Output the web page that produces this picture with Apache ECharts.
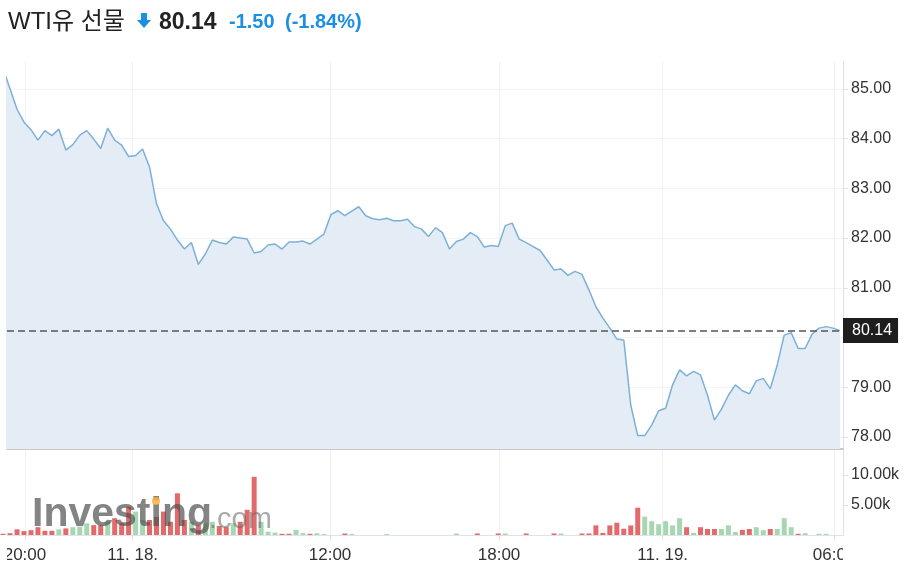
<!DOCTYPE html>
<html>
<head>
<meta charset="utf-8">
<script src="https://cdn.jsdelivr.net/npm/echarts@6/dist/echarts.min.js"></script>
<style>
html,body{margin:0;padding:0;background:#fff;}
#chart{width:920px;height:575px;}
</style>
</head>
<body>
<div id="chart"></div>
<script>
// ---- data ----
const instrumentName = 'WTI유 선물';
const lastPrice = 80.14;
const priceChange = -1.50;
const priceChangePct = -1.84;

const prices = [
  85.40, 85.00, 84.59, 84.33, 84.18, 83.97, 84.16, 84.06, 84.19, 83.77,
  83.88, 84.07, 84.16, 83.99, 83.80, 84.21, 83.97, 83.87, 83.64, 83.66,
  83.79, 83.43, 82.69, 82.35, 82.18, 81.96, 81.78, 81.91, 81.47, 81.68,
  81.96, 81.91, 81.88, 82.02, 82.00, 81.98, 81.70, 81.73, 81.86, 81.88,
  81.78, 81.92, 81.92, 81.94, 81.88, 81.98, 82.08, 82.47, 82.55, 82.45,
  82.54, 82.63, 82.45, 82.39, 82.37, 82.40, 82.35, 82.35, 82.38, 82.23,
  82.18, 82.03, 82.21, 82.11, 81.78, 81.93, 81.98, 82.11, 82.03, 81.82,
  81.85, 81.83, 82.25, 82.30, 81.98, 81.91, 81.83, 81.75, 81.56, 81.36,
  81.38, 81.25, 81.33, 81.27, 80.96, 80.62, 80.39, 80.19, 79.97, 79.95,
  78.64, 78.03, 78.03, 78.24, 78.53, 78.58, 79.05, 79.35, 79.23, 79.32,
  79.25, 78.84, 78.34, 78.56, 78.84, 79.05, 78.93, 78.87, 79.13, 79.18,
  78.97, 79.45, 80.05, 80.10, 79.78, 79.78, 80.07, 80.19, 80.22, 80.19,
  80.14
];

const volumes = [
  200, 300, 950, 650, 800, 1300, 700, 700, 950, 1100,
  1300, 1400, 1950, 1650, 1650, 2200, 2800, 1950, 4700, 3900,
  2500, 2500, 3000, 3900, 2200, 6950, 2500, 2200, 1650, 1950,
  2200, 1500, 1300, 1950, 2200, 4200, 9700, 2200, 550, 400,
  200, 200, 850, 300, 200, 300, 150, 0, 0, 250,
  150, 0, 0, 0, 0, 150, 0, 0, 0, 0,
  0, 0, 0, 0, 0, 250, 0, 0, 250, 0,
  0, 250, 250, 0, 0, 250, 0, 0, 0, 250,
  250, 0, 0, 250, 250, 1600, 350, 1600, 2050, 1050,
  1600, 4550, 3050, 2300, 1800, 2300, 1600, 2800, 1300, 350,
  1300, 1000, 1000, 1000, 1600, 500, 850, 1000, 1300, 800,
  1000, 1000, 2800, 1300, 200, 300, 0, 200, 200, 0,
  0
];

const volumeDirs = [
  'd','d','d','d','d','d','d','d','u','d',
  'u','u','u','d','d','u','d','d','d','u',
  'u','d','d','d','d','d','d','u','d','u',
  'u','d','d','u','d','d','d','u','u','u',
  'd','d','u','u','d','u','u','u','u','d',
  'u','u','d','d','d','u','d','d','d','d',
  'd','d','d','d','d','u','d','d','d','d',
  'd','d','u','d','d','d','d','d','d','d',
  'u','d','d','d','d','d','d','d','d','d',
  'd','d','u','u','u','u','u','u','d','u',
  'd','d','d','u','u','u','d','d','u','u',
  'd','u','u','u','d','u','u','u','u','d',
  'd'
];

const xTickPositions = [3.14, 18.59, 46.88, 71.11, 94.58, 119.15];
const xTickLabels = ['20:00', '11. 18.', '12:00', '18:00', '11. 19.', '06:00'];
const priceTicks = [78, 79, 80, 81, 82, 83, 84, 85];
const volumeTicks = [5000, 10000];

// ---- chart ----
const chart = echarts.init(document.getElementById('chart'), null, {renderer: 'canvas'});
const FONT = "'Liberation Sans', Arial, 'Noto Sans CJK KR', sans-serif";
const XMIN = 0.562, XMAX = 120.43;
const blue = '#1a8fe3';

function xLabelFor(v) {
  let best = 0, bd = Infinity;
  xTickPositions.forEach((p, k) => { const d = Math.abs(p - v); if (d < bd) { bd = d; best = k; } });
  return xTickLabels[best];
}

const option = {
  animation: false,
  textStyle: {fontFamily: FONT},
  grid: [
    {left: 7, right: 77, top: 62, height: 387},
    {left: 7, right: 77, top: 449, height: 86}
  ],
  xAxis: [
    {
      type: 'value', gridIndex: 0, min: XMIN, max: XMAX,
      axisLine: {show: true, onZero: false, lineStyle: {color: '#c9c9c9', width: 2}},
      axisTick: {show: false, customValues: xTickPositions},
      axisLabel: {show: false, customValues: xTickPositions},
      splitLine: {show: true, lineStyle: {color: '#edf0f4', width: 1}}
    },
    {
      type: 'value', gridIndex: 1, min: XMIN, max: XMAX,
      axisLine: {show: true, onZero: false, lineStyle: {color: '#dfe3e8', width: 1}},
      axisTick: {show: true, length: 6, customValues: xTickPositions, lineStyle: {color: '#dfe3e8'}},
      axisLabel: {show: true, customValues: xTickPositions, formatter: xLabelFor,
                  color: '#333', fontSize: 17, margin: 12, fontFamily: FONT},
      splitLine: {show: true, lineStyle: {color: '#edf0f4', width: 1}}
    }
  ],
  yAxis: [
    {
      type: 'value', gridIndex: 0, position: 'right', min: 77.76, max: 85.54,
      axisLine: {show: true, lineStyle: {color: '#dde2e8'}},
      axisTick: {show: true, length: 5, customValues: priceTicks, lineStyle: {color: '#dde2e8'}},
      axisLabel: {show: true, customValues: priceTicks, formatter: v => v.toFixed(2),
                  color: '#333', fontSize: 16, margin: 8, fontFamily: FONT},
      splitLine: {show: true, lineStyle: {color: '#f2f3f5'}}
    },
    {
      type: 'value', gridIndex: 1, position: 'right', min: 0, max: 14333,
      axisLine: {show: true, lineStyle: {color: '#dde2e8'}},
      axisTick: {show: true, length: 5, customValues: volumeTicks, lineStyle: {color: '#dde2e8'}},
      axisLabel: {show: true, customValues: volumeTicks, formatter: v => (v / 1000).toFixed(2) + 'k',
                  color: '#333', fontSize: 16, margin: 8, fontFamily: FONT},
      splitLine: {show: false}
    }
  ],
  series: [
    {
      type: 'line', xAxisIndex: 0, yAxisIndex: 0,
      data: prices.map((v, i) => [i, v]),
      symbol: 'none', smooth: false,
      lineStyle: {color: '#7db0d9', width: 1.5},
      areaStyle: {color: '#e4edf5', opacity: 1, origin: 'start'},
      markLine: {
        silent: true, symbol: ['none', 'none'],
        lineStyle: {color: '#555', type: [7, 4], width: 1.5},
        label: {show: true, position: 'end', distance: 0, formatter: () => lastPrice.toFixed(2),
                backgroundColor: '#1e1e1e', color: '#fff', fontSize: 16, fontFamily: FONT,
                padding: [5, 6, 4, 9]},
        data: [{yAxis: lastPrice}]
      }
    },
    {
      type: 'bar', xAxisIndex: 1, yAxisIndex: 1, barWidth: 5,
      data: volumes.map((v, i) => ({
        value: [i, v],
        itemStyle: {color: volumeDirs[i] === 'u' ? '#a6d7b2' : '#e26a6a'}
      }))
    }
  ],
  graphic: [
    {type: 'text', left: 8, top: 10, style: {text: instrumentName, font: "24px " + FONT, fill: '#222'}},
    {type: 'polygon', shape: {points: [[141, 13], [147, 13], [147, 20], [151, 20], [144, 28], [137, 20], [141, 20]]},
     style: {fill: blue}},
    {type: 'text', left: 159, top: 11, style: {text: lastPrice.toFixed(2), font: "bold 23px " + FONT, fill: '#222'}},
    {type: 'text', left: 229, top: 12, style: {text: priceChange.toFixed(2), font: "bold 20px " + FONT, fill: blue}},
    {type: 'text', left: 285, top: 12, style: {text: '(' + priceChangePct.toFixed(2) + '%)', font: "bold 20px " + FONT, fill: blue}},
    // watermark
    {type: 'text', left: 32, top: 494, z: 50, style: {text: 'Investing', font: "bold 41px " + FONT, fill: 'rgba(80,80,80,0.7)'}},
    {type: 'text', left: 209, top: 505, z: 50, style: {text: '.com', font: "29px " + FONT, fill: 'rgba(100,100,100,0.55)'}},
    {type: 'circle', z: 51, shape: {cx: 156, cy: 501, r: 4}, style: {fill: 'rgba(255,175,60,0.85)'}},
    // clip of x-axis labels at plot edges
    {type: 'rect', z: 60, shape: {x: 0, y: 542, width: 7, height: 30}, style: {fill: '#fff'}},
    {type: 'rect', z: 60, shape: {x: 843, y: 542, width: 77, height: 30}, style: {fill: '#fff'}}
  ]
};
chart.setOption(option);
</script>
</body>
</html>
